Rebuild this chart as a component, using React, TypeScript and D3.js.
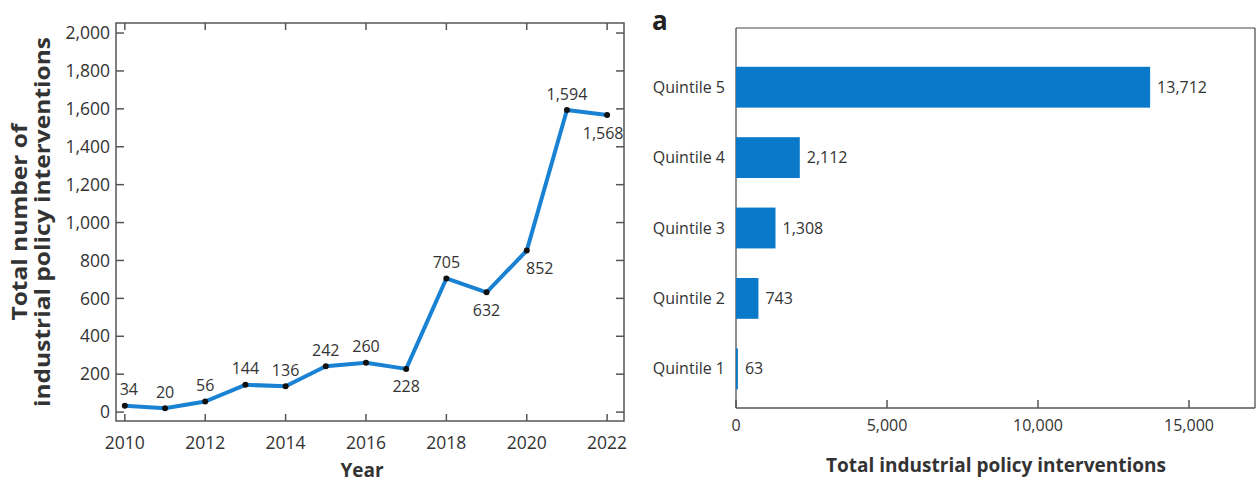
import React from 'react';
import * as d3 from 'd3';

// line chart data
const years = [2010, 2011, 2012, 2013, 2014, 2015, 2016, 2017, 2018, 2019, 2020, 2021, 2022];
const totals = [34, 20, 56, 144, 136, 242, 260, 228, 705, 632, 852, 1594, 1568];
// where each value label sits: 'a' above, 'b' below, 'br' below-right
const labelPos = ['a', 'a', 'a', 'a', 'a', 'a', 'a', 'b', 'a', 'b', 'br', 'a', 'b'];
const yTicks = [0, 200, 400, 600, 800, 1000, 1200, 1400, 1600, 1800, 2000];
const xTicks = [2010, 2012, 2014, 2016, 2018, 2020, 2022];

// bar chart data
const quintiles = ['Quintile 5', 'Quintile 4', 'Quintile 3', 'Quintile 2', 'Quintile 1'];
const quintileTotals = [13712, 2112, 1308, 743, 63];
const barTicks = [0, 5000, 10000, 15000];

const FONT = "'Open Sans', 'Noto Sans', sans-serif";
const TXT = '#333';
const fmt = d3.format(',');

const App = () => {
  // left panel
  const x = d3.scaleLinear().domain([2009.78, 2022.42]).range([116, 624]);
  const y = d3.scaleLinear().domain([-47, 2053]).range([421, 23]);
  const line = d3.line<number>()
    .x((_, i) => x(years[i]))
    .y((d) => y(d));

  // right panel
  const xb = d3.scaleLinear().domain([0, 17185]).range([736, 1255]);
  const yb = d3.scaleBand().domain(quintiles).range([52, 404]).paddingInner(0.42).paddingOuter(0.21);

  return (
    <svg width={1258} height={482} style={{ position: 'absolute', left: 0, top: 0, background: '#fff' }}
      fontFamily={FONT}>
      {/* ---- line chart ---- */}
      <rect x={116} y={23} width={508} height={398} fill="none" stroke="#555" strokeWidth={1.5} />
      {yTicks.map((t) => (
        <g key={'yt' + t}>
          <line x1={116} x2={124} y1={y(t)} y2={y(t)} stroke="#555" strokeWidth={1.5} />
          <line x1={616} x2={624} y1={y(t)} y2={y(t)} stroke="#555" strokeWidth={1.5} />
          <text x={110} y={y(t)} dy="0.35em" textAnchor="end" fontSize={17.5} fill={TXT}>{fmt(t)}</text>
        </g>
      ))}
      {xTicks.map((t) => (
        <g key={'xt' + t}>
          <line x1={x(t)} x2={x(t)} y1={421} y2={414} stroke="#555" strokeWidth={1.5} />
          <line x1={x(t)} x2={x(t)} y1={23} y2={30} stroke="#555" strokeWidth={1.5} />
          <text x={x(t)} y={449} textAnchor="middle" fontSize={17.5} fill={TXT}>{t}</text>
        </g>
      ))}
      <text x={362} y={477} textAnchor="middle" fontSize={19} fontWeight="bold" fill={TXT}>Year</text>
      <g transform="translate(0,222) rotate(-90)">
        <text x={0} y={27} textAnchor="middle" fontSize={21.5} fontWeight="bold" fill={TXT}
          textLength={197} lengthAdjust="spacingAndGlyphs">Total number of</text>
        <text x={0} y={50} textAnchor="middle" fontSize={21.5} fontWeight="bold" fill={TXT}
          textLength={370} lengthAdjust="spacingAndGlyphs">industrial policy interventions</text>
      </g>
      <path d={line(totals) ?? ''} fill="none" stroke="#1a82d2" strokeWidth={4} strokeLinejoin="round" />
      {totals.map((v, i) => (
        <circle key={'p' + i} cx={x(years[i])} cy={y(v)} r={3} fill="#111" />
      ))}
      {totals.map((v, i) => {
        const p = labelPos[i];
        const dx = p === 'br' ? 13 : i === 0 ? 4 : i === 12 ? -4 : 0;
        const dy = p === 'a' ? -16 : 18;
        return (
          <text key={'l' + i} x={x(years[i]) + dx} y={y(v) + dy} dy="0.35em" textAnchor="middle"
            fontSize={16} fill={TXT}>{fmt(v)}</text>
        );
      })}

      {/* ---- bar chart ---- */}
      <text x={652} y={30} fontSize={26} fontWeight="bold" fill="#222">a</text>
      <line x1={736} x2={1255} y1={28} y2={28} stroke="#444" strokeWidth={1.2} />
      <line x1={1255} x2={1255} y1={28} y2={408} stroke="#444" strokeWidth={1.2} />
      <line x1={736} x2={736} y1={28} y2={408} stroke="#444" strokeWidth={1.2} />
      <line x1={736} x2={1255} y1={408} y2={408} stroke="#555" strokeWidth={1.5} />
      {quintiles.map((q, i) => (
        <g key={q}>
          <rect x={xb(0)} y={yb(q)!} width={xb(quintileTotals[i]) - xb(0)} height={yb.bandwidth()} fill="#0a79c9" />
          <text x={725} y={yb(q)! + yb.bandwidth() / 2} dy="0.35em" textAnchor="end" fontSize={16} fill={TXT}>{q}</text>
          <text x={xb(quintileTotals[i]) + 7} y={yb(q)! + yb.bandwidth() / 2} dy="0.35em" fontSize={16} fill={TXT}>
            {fmt(quintileTotals[i])}
          </text>
        </g>
      ))}
      {barTicks.map((t) => (
        <g key={'bt' + t}>
          <line x1={xb(t)} x2={xb(t)} y1={408} y2={400} stroke="#555" strokeWidth={1.5} />
          <text x={xb(t)} y={431} textAnchor="middle" fontSize={16} fill={TXT}>{fmt(t)}</text>
        </g>
      ))}
      <text x={996} y={472} textAnchor="middle" fontSize={19} fontWeight="bold" fill={TXT}>
        Total industrial policy interventions
      </text>
    </svg>
  );
};

export default App;
